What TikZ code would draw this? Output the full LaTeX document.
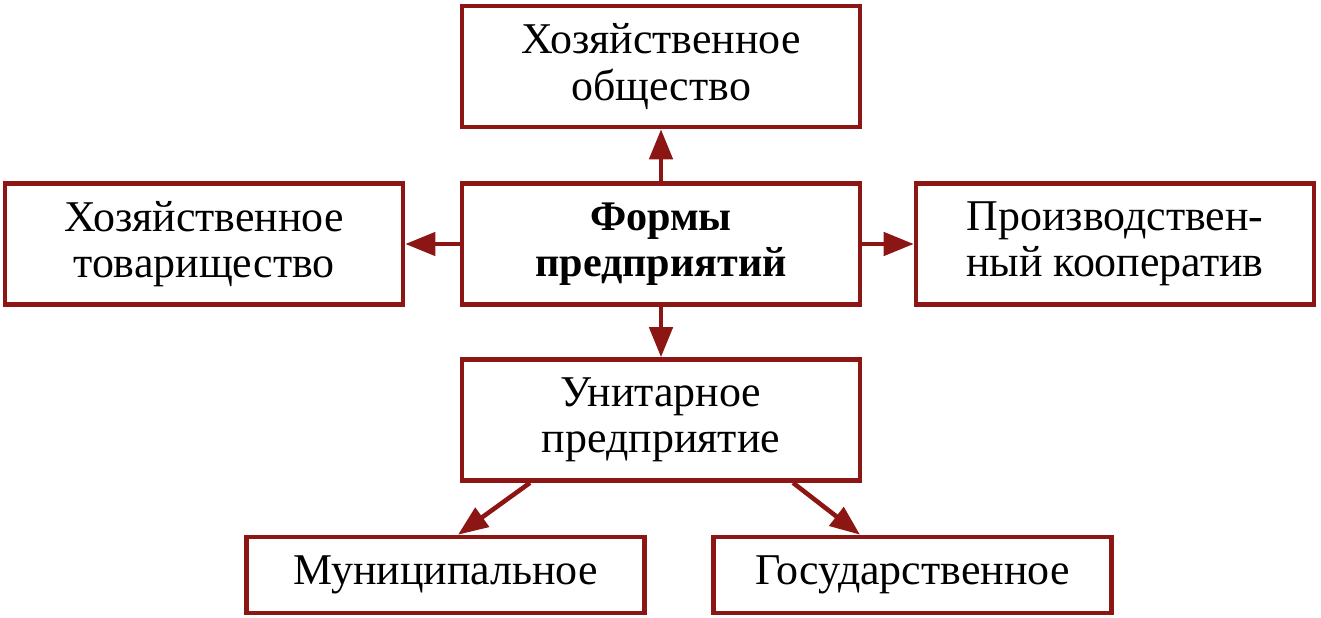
\documentclass[tikz,border=0pt]{standalone}
\usepackage{fontspec}
\setmainfont{Liberation Serif}
\usepackage{tikz}
\usetikzlibrary{positioning,arrows}
\usetikzlibrary{shapes}
\usetikzlibrary{arrows.meta}
\usepackage{xcolor}
\definecolor{formred}{RGB}{140,22,20}

\begin{document}
\begin{tikzpicture}
  	\useasboundingbox (0,0) rectangle (26.42,-12.36);
  	\tikzstyle{every node}=[font=\fontsize{25}{26.5}\selectfont, rectangle, draw=formred, line width=2.6pt, minimum width=7.96cm, minimum height=2.42cm, inner sep=0pt]
  	\draw (13.22,-1.33) node (hoz_obshchestvo) [align=center]{Хозяйственное\\общество};
  	\draw (13.22,-4.88) node (formy_pred) [align=center, font=\fontsize{24}{26.5}\selectfont\bfseries]{Формы\\предприятий};
  	\draw (4.08,-4.88) node (hoz_tovarish) [align=center]{Хозяйственное\\товарищество};
  	\draw (22.30,-4.88) node (proizv_koop) [align=center]{Производствен-\\ный кооператив};
  	\draw (13.22,-8.40) node (unitar_pred) [align=center]{Унитарное\\предприятие};
  	\draw (8.91,-11.50) node (munic_pred) [minimum height=1.52cm]{Муниципальное};
  	\draw (18.25,-11.50) node (gosud_pred) [minimum height=1.52cm]{Государственное};
  	\tikzstyle{every node}=[fill=none]
  	\tikzset{formarrow/.style={formred, line width=2.6pt, -{Triangle[length=0.6cm,width=0.46cm]}}}
  	\draw [formarrow] (formy_pred) to (hoz_obshchestvo);
  	\draw [formarrow] (formy_pred) to (hoz_tovarish);
  	\draw [formarrow] (formy_pred) to (proizv_koop);
  	\draw [formarrow] (formy_pred) to (unitar_pred);
  	\draw [formarrow] ([xshift=-2.62cm]unitar_pred.south) to ([xshift=0.25cm]munic_pred.north);
  	\draw [formarrow] ([xshift=2.64cm]unitar_pred.south) to ([xshift=-1.05cm]gosud_pred.north);
\end{tikzpicture}
\end{document}
